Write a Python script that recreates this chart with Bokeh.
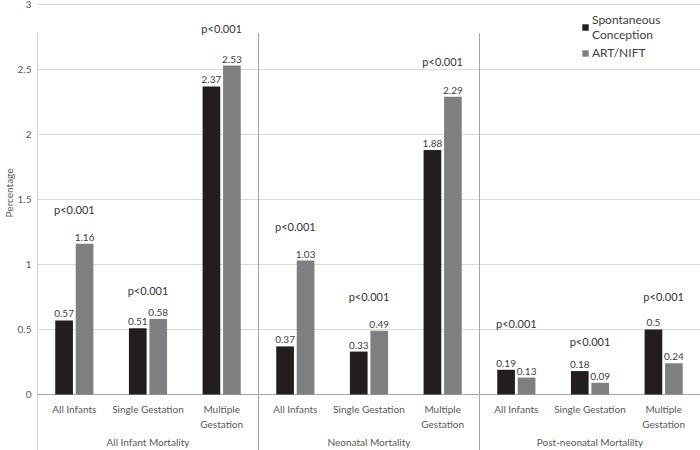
from bokeh.plotting import figure
from bokeh.models import (FactorRange, Range1d, ColumnDataSource, FixedTicker,
                          Legend, LegendItem, Title)
from bokeh.transform import dodge
from bokeh.core.properties import value
from bokeh.embed import file_html
from bokeh.resources import INLINE

# ---------------- data ----------------
groups = ["All Infant Mortality", "Neonatal Mortality", "Post-neonatal Mortalilty"]
subcategories = ["All Infants", "Single Gestation", "Multiple Gestation"]
subcategory_display = ["All Infants", "Single Gestation", "Multiple\nGestation"]
spontaneous = [0.57, 0.51, 2.37, 0.37, 0.33, 1.88, 0.19, 0.18, 0.5]
art_nift = [1.16, 0.58, 2.53, 1.03, 0.49, 2.29, 0.13, 0.09, 0.24]
p_text = ["p<0.001"] * 9
p_height = [1.42, 0.80, 2.815, 1.29, 0.754, 2.56, 0.546, 0.41, 0.75]
y_ticks = [0, 0.5, 1, 1.5, 2, 2.5, 3]
y_tick_labels = ["0", "0.5", "1", "1.5", "2", "2.5", "3"]
series_names = ["Spontaneous\nConception", "ART/NIFT"]
y_axis_title = "Percentage"

# ---------------- styles ----------------
FONT = "Lato"
C_SPONT = "#221e1f"
C_ART = "#7f7f81"
C_GRID = "#d9d9d9"
C_SEP = "#a6a6a6"
C_TEXT = "#404040"
C_TICK = "#595959"
BAR_W = 0.24
OFF = 0.139

factors = [(g, s) for g in groups for s in subcategories]
src = ColumnDataSource(dict(
    x=factors,
    spont=spontaneous,
    art=art_nift,
    spont_lbl=[f"{v:g}" for v in spontaneous],
    art_lbl=[f"{v:g}" for v in art_nift],
    p_text=p_text,
    p_y=p_height,
    sub=[subcategory_display[i % len(subcategories)] for i in range(len(factors))],
))

x_range = FactorRange(factors=factors, range_padding=0, group_padding=0,
                      subgroup_padding=0, factor_padding=0)
y_range = Range1d(-0.431, 3.031)

p = figure(width=700, height=450, x_range=x_range, y_range=y_range,
           x_axis_location=None, output_backend="svg", toolbar_location=None,
           min_border_left=37, min_border_right=0, min_border_top=0, min_border_bottom=0)
p.outline_line_color = None
p.background_fill_color = "white"
p.border_fill_color = "white"

# y axis
ax = p.yaxis[0]
ax.ticker = FixedTicker(ticks=y_ticks)
ax.major_label_overrides = {t: l for t, l in zip(y_ticks, y_tick_labels)}
ax.axis_line_color = None
ax.major_tick_line_color = None
ax.minor_tick_line_color = None
ax.major_tick_out = 0
ax.major_tick_in = 0
ax.major_label_standoff = 6
ax.major_label_text_font = FONT
ax.major_label_text_font_size = "10px"
ax.major_label_text_color = C_TICK

# y axis title as a side title (placed at the reference's position)
p.add_layout(Title(text=y_axis_title, align="right", offset=168, standoff=0,
                   text_font=FONT, text_font_size="10px", text_font_style="normal",
                   text_color=C_TICK), "left")

p.ygrid.ticker = FixedTicker(ticks=y_ticks)
p.ygrid.grid_line_color = C_GRID
p.ygrid.grid_line_width = 1
for g in p.xgrid:
    g.visible = False

# separators (left axis line + group boundaries)
n_sub = len(subcategories)
bounds = [i * n_sub for i in range(len(groups))]
p.segment(x0=bounds, x1=bounds, y0=2.78, y1=y_range.start, line_color=C_SEP, line_width=1)
# x axis line
p.segment(x0=[0], x1=[len(factors)], y0=[0], y1=[0], line_color=C_SEP, line_width=1)

# bars
r1 = p.vbar(x=dodge("x", -OFF, range=x_range), top="spont", width=BAR_W, source=src,
            fill_color=C_SPONT, line_color=None)
r2 = p.vbar(x=dodge("x", OFF, range=x_range), top="art", width=BAR_W, source=src,
            fill_color=C_ART, line_color=None)

# value labels
p.text(x=dodge("x", -OFF, range=x_range), y="spont", text="spont_lbl", source=src,
       text_align="center", text_baseline="bottom", y_offset=-3,
       text_font=value(FONT), text_font_size="10px", text_color=C_TEXT)
p.text(x=dodge("x", OFF, range=x_range), y="art", text="art_lbl", source=src,
       text_align="center", text_baseline="bottom", y_offset=-3,
       text_font=value(FONT), text_font_size="10px", text_color=C_TEXT)

# p-value labels
p.text(x="x", y="p_y", text="p_text", source=src, text_align="center",
       text_baseline="middle", text_font=value(FONT), text_font_size="11px",
       text_color="#333333")

# category labels below axis
p.text(x="x", y=0, text="sub", source=src, text_align="center", text_baseline="top",
       y_offset=9, text_font=value(FONT), text_font_size="10px", text_color=C_TICK,
       text_line_height=1.25)
# group labels
p.text(x=groups, y=[0] * len(groups), text=groups, text_align="center",
       text_baseline="middle", y_offset=48, text_font=value(FONT),
       text_font_size="10px", text_color=C_TICK)

legend = Legend(items=[LegendItem(label=series_names[0], renderers=[r1]),
                       LegendItem(label=series_names[1], renderers=[r2])],
                location=(544, 390), orientation="vertical",
                glyph_width=8, glyph_height=8, label_standoff=3, spacing=3,
                padding=0, margin=0, border_line_color=None,
                background_fill_alpha=0, label_text_font=FONT,
                label_text_font_size="12px", label_text_color=C_TEXT,
                label_text_line_height=1.3)
p.add_layout(legend)

open("out.html", "w").write(file_html(p, INLINE))
